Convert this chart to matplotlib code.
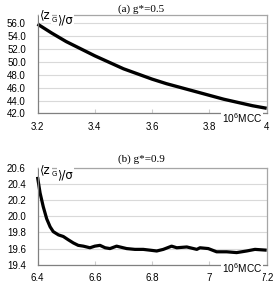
import matplotlib
matplotlib.use("Agg")
import matplotlib.pyplot as plt

plt.rcParams['font.family'] = ['Liberation Sans', 'DejaVu Sans']
plt.rcParams['mathtext.fontset'] = 'custom'
plt.rcParams['mathtext.rm'] = 'Liberation Sans'
plt.rcParams['mathtext.it'] = 'Liberation Sans'

# ---- data ----
x_a = [3.20, 3.25, 3.30, 3.35, 3.40, 3.45, 3.50, 3.55, 3.60, 3.65, 3.70,
       3.75, 3.80, 3.85, 3.90, 3.95, 4.00]
y_a = [55.8, 54.4, 53.1, 52.0, 50.9, 49.9, 48.9, 48.1, 47.3, 46.6, 46.0,
       45.4, 44.8, 44.2, 43.7, 43.2, 42.8]

x_b = [6.400, 6.409, 6.420, 6.432, 6.444, 6.455, 6.473, 6.490, 6.507, 6.525,
       6.542, 6.560, 6.583, 6.600, 6.618, 6.636, 6.653, 6.676, 6.711, 6.740,
       6.769, 6.793, 6.816, 6.839, 6.868, 6.886, 6.921, 6.956, 6.967, 6.996,
       7.025, 7.060, 7.095, 7.130, 7.159, 7.200]
y_b = [20.49, 20.29, 20.12, 19.97, 19.87, 19.81, 19.77, 19.75, 19.71, 19.67,
       19.64, 19.63, 19.61, 19.63, 19.64, 19.61, 19.60, 19.63, 19.60, 19.59,
       19.59, 19.58, 19.57, 19.59, 19.63, 19.61, 19.62, 19.59, 19.61, 19.60,
       19.56, 19.56, 19.55, 19.57, 19.59, 19.58]

xticks_a = [3.2, 3.4, 3.6, 3.8, 4.0]
xticklabels_a = ['3.2', '3.4', '3.6', '3.8', '4']
yticks_a = [42, 44, 46, 48, 50, 52, 54, 56]
xticks_b = [6.4, 6.6, 6.8, 7.0, 7.2]
xticklabels_b = ['6.4', '6.6', '6.8', '7', '7.2']
yticks_b = [19.4, 19.6, 19.8, 20.0, 20.2, 20.4, 20.6]

titles = ['(a) g*=0.5', '(b) g*=0.9']

fig = plt.figure(figsize=(2.73, 2.83), dpi=100)
ax_a = fig.add_axes([0.1374, 0.599, 0.8396, 0.348])
ax_b = fig.add_axes([0.1374, 0.0647, 0.8396, 0.3417])

FS = 7.0
dv = ['DejaVu Sans']
serif = ['Liberation Serif', 'DejaVu Serif']


def style(ax, xt, xtl, yt, ylim, xlim, fmt):
    ax.set_xlim(*xlim)
    ax.set_ylim(*ylim)
    ax.set_xticks(xt)
    ax.set_xticklabels(xtl, fontsize=FS)
    ax.set_yticks(yt)
    ax.set_yticklabels([fmt.format(v) for v in yt], fontsize=FS)
    ax.grid(axis='y', color='#d9d9d9', lw=0.8)
    ax.set_axisbelow(True)
    ax.tick_params(axis='y', length=0, pad=8.4)
    ax.tick_params(axis='x', direction='in', length=3, color='#cccccc', pad=6)
    for s in ['left', 'bottom']:
        ax.spines[s].set_color('#808080')
        ax.spines[s].set_linewidth(0.9)
    for s in ['top', 'right']:
        ax.spines[s].set_color('#a6a6a6')
        ax.spines[s].set_linewidth(0.9)


style(ax_a, xticks_a, xticklabels_a, yticks_a, (42, 57.2), (3.2, 4.0), '{:.1f}')
style(ax_b, xticks_b, xticklabels_b, yticks_b, (19.4, 20.6), (6.4, 7.2), '{:.1f}')

ax_a.plot(x_a, y_a, color='black', lw=2.4, solid_capstyle='butt', clip_on=False)
ax_b.plot(x_b, y_b, color='black', lw=2.3, solid_capstyle='butt', clip_on=False)


def ylabel(ax, dy):
    t1 = ax.annotate('⟨z', xy=(0, 1), xycoords='axes fraction',
                     xytext=(2.0, dy), textcoords='offset points',
                     fontsize=FS + 1.4, family=dv, va='center', ha='left',
                     bbox=dict(fc='white', ec='none', pad=0.6))
    t2 = ax.annotate('G', xy=(1, 0.1), xycoords=t1, xytext=(0.2, 0),
                     textcoords='offset points', fontsize=FS - 2.0,
                     family=['Liberation Sans'], va='center', ha='left',
                     bbox=dict(fc='white', ec='none', pad=0.0))
    ax.annotate('⟩/σ', xy=(1, 0.5), xycoords=t2, xytext=(0.6, 0.1),
                textcoords='offset points', fontsize=FS + 1.4, family=dv,
                va='center', ha='left', annotation_clip=False,
                bbox=dict(fc='white', ec='none', pad=0.6))


ylabel(ax_a, 0)
ylabel(ax_b, -1)

ax_a.annotate(titles[0], xy=(0.352, 1), xycoords='axes fraction',
              xytext=(0, 4.2), textcoords='offset points', fontsize=FS + 1.0,
              family=serif, va='center', ha='left')
ax_b.annotate(titles[1], xy=(0.352, 1), xycoords='axes fraction',
              xytext=(0, 6), textcoords='offset points', fontsize=FS + 1.0,
              family=serif, va='center', ha='left')

for ax, dy in [(ax_a, -3), (ax_b, -2.5)]:
    ax.annotate(r'10$^{\mathrm{6}}$MCC', xy=(0.805, 0), xycoords='axes fraction',
                xytext=(0, dy), textcoords='offset points', fontsize=FS + 0.3,
                va='center', ha='left',
                bbox=dict(fc='white', ec='none', pad=0.5))

fig.savefig('out.png', dpi=100)
